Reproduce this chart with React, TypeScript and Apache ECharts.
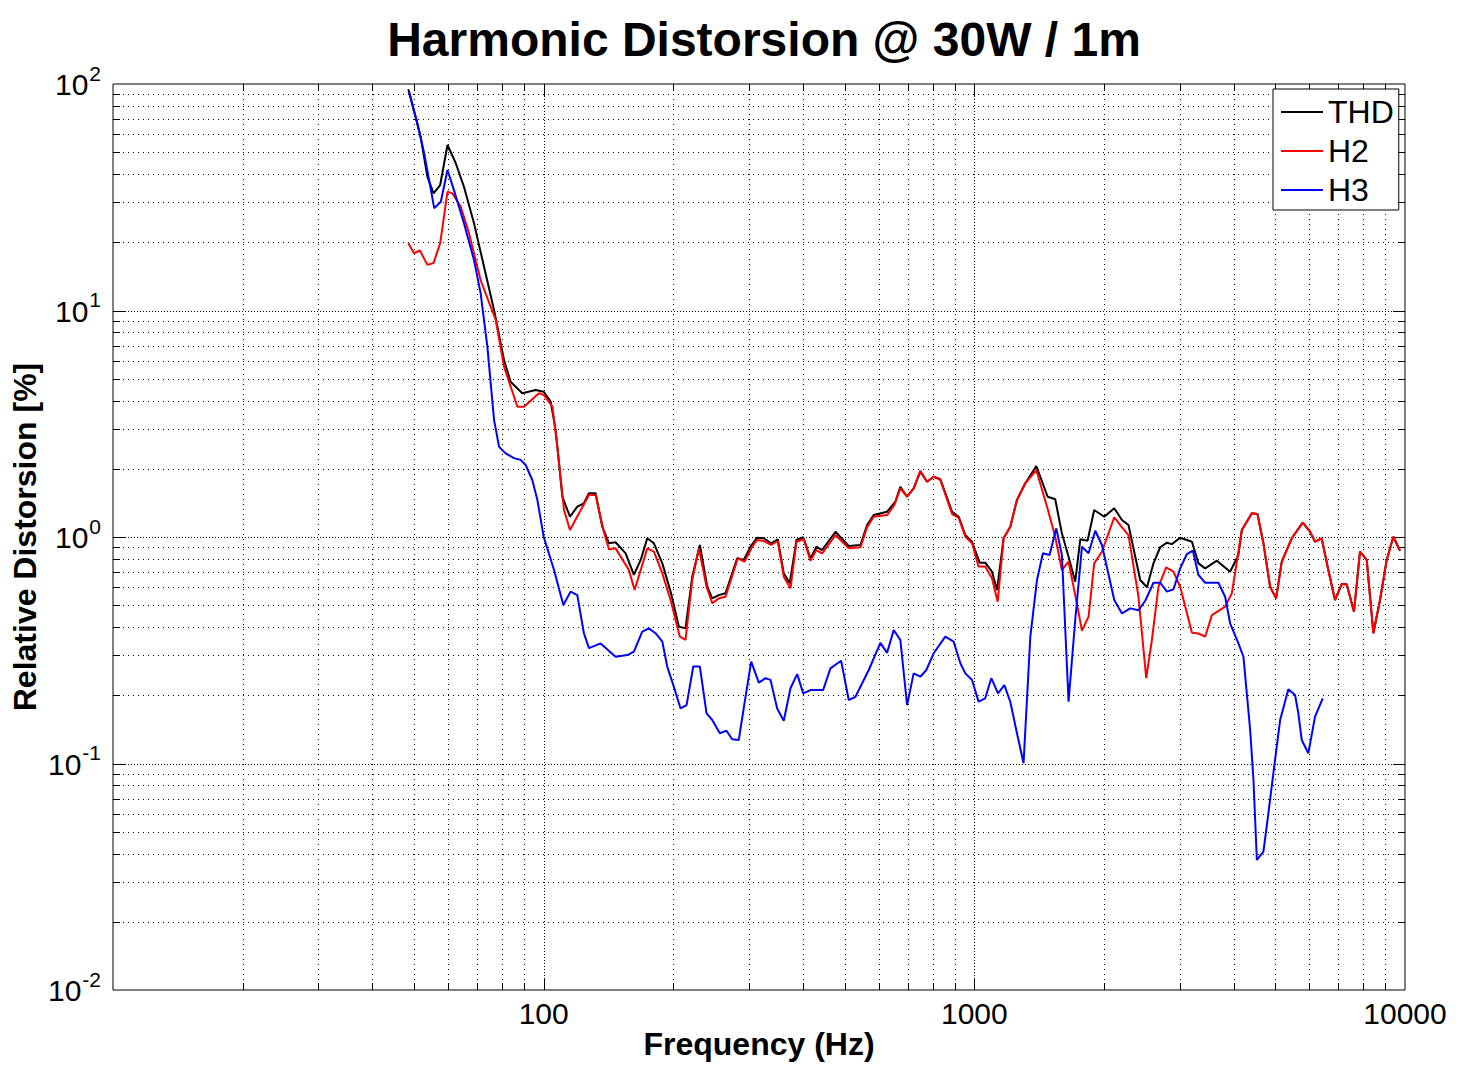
import React, { useEffect, useRef } from 'react';
import * as echarts from 'echarts';

const TITLE = 'Harmonic Distorsion @ 30W / 1m';
const X_NAME = 'Frequency (Hz)';
const Y_NAME = 'Relative Distorsion [%]';

const X_MAJOR_TICKS = [100, 1000];
const X_MINOR_TICKS = [20, 30, 40, 50, 60, 70, 80, 90, 200, 300, 400, 500, 600, 700, 800, 900, 2000, 3000, 4000, 5000, 6000, 7000, 8000, 9000];
const Y_MAJOR_TICKS = [0.1, 1, 10];
const Y_MINOR_TICKS = [0.02, 0.03, 0.04, 0.05, 0.06, 0.07, 0.08, 0.09, 0.2, 0.3, 0.4, 0.5, 0.6, 0.7, 0.8, 0.9, 2, 3, 4, 5, 6, 7, 8, 9, 20, 30, 40, 50, 60, 70, 80, 90];

const THD: [number, number][] = [
  [48.5, 94.8], [51.8, 58.5], [53.7, 39.0], [55.5, 32.9], [57.5, 35.8], [59.8, 53.8], [62.5, 44.7], [65.3, 35.2],
  [68.9, 24.3], [72.7, 15.6], [76.7, 10.05], [80.9, 6.05], [83.8, 4.85], [89.2, 4.31], [95.8, 4.46], [100, 4.38],
  [103.8, 3.96], [106.6, 2.97], [110.5, 1.506], [115.1, 1.229], [119.7, 1.361], [124.0, 1.409], [127.4, 1.559],
  [132.0, 1.559], [136.8, 1.11], [141.8, 0.938], [146.9, 0.948], [155.0, 0.847], [162.0, 0.68], [168.0, 0.792],
  [174.0, 0.987], [180.3, 0.938], [188.6, 0.765], [197.1, 0.574], [206.1, 0.402], [213.5, 0.395], [221.3, 0.668],
  [230.5, 0.922], [239.8, 0.603], [246.3, 0.536], [255.1, 0.554], [264.4, 0.564], [281.4, 0.805], [291.5, 0.792],
  [302.2, 0.906], [313.2, 0.993], [324.4, 0.987], [337.5, 0.938], [349.6, 0.977], [361.0, 0.691], [372.8, 0.625],
  [386.4, 0.970], [400.5, 0.997], [416.4, 0.805], [429.9, 0.906], [443.2, 0.876], [475.9, 1.055], [510.9, 0.913],
  [543.9, 0.922], [563.6, 1.13], [584.0, 1.25], [627.2, 1.293], [655.7, 1.432], [673.4, 1.667], [698.0, 1.506],
  [723.0, 1.641], [749.3, 1.942], [776.7, 1.754], [804.6, 1.846], [834.0, 1.798], [887.9, 1.293], [919.6, 1.229],
  [953.0, 1.02], [987.8, 0.953], [1029, 0.770], [1060, 0.770], [1099, 0.703], [1129, 0.583], [1169.5, 0.987],
  [1212, 1.11], [1256, 1.457], [1313, 1.726], [1393, 2.058], [1480, 1.506], [1541, 1.467], [1597, 1.038],
  [1655, 0.818], [1715, 0.635], [1762, 0.977], [1832, 0.963], [1898, 1.316], [2003, 1.229], [2113, 1.339],
  [2202, 1.189], [2280, 1.13], [2428, 0.646], [2517, 0.600], [2606, 0.765], [2701, 0.901], [2800, 0.944],
  [2875, 0.93], [3006, 0.993], [3201, 0.953], [3314, 0.765], [3436, 0.727], [3657, 0.786], [3926, 0.703],
  [4104, 0.833], [4180, 1.074], [4410, 1.272], [4544, 1.263], [4691, 0.938], [4862, 0.603], [5020, 0.536],
  [5175, 0.778], [5458, 0.987], [5788, 1.157], [6019, 1.055], [6182, 0.953], [6405, 0.987], [6637, 0.715],
  [6878, 0.527], [7128, 0.620], [7321, 0.619], [7613, 0.468], [7861, 0.861], [8149, 0.792], [8444, 0.376],
  [8750, 0.527], [9068, 0.792], [9395, 1.003], [9736, 0.870],
];

const H2: [number, number][] = [
  [48.5, 19.8], [50.0, 17.9], [51.6, 18.4], [53.7, 15.9], [55.5, 16.2], [57.5, 19.8], [59.8, 33.5], [61.4, 32.9],
  [64.2, 28.7], [67.1, 21.9], [71.4, 13.6], [75.3, 10.4], [77.4, 9.08], [80.9, 5.65], [86.9, 3.76], [90.0, 3.76],
  [97.5, 4.31], [100, 4.24], [104.8, 3.76], [107.6, 2.50], [111.5, 1.316], [115.1, 1.074], [120.8, 1.272],
  [127.4, 1.532], [132.0, 1.532], [137.6, 1.074], [141.8, 0.882], [146.9, 0.891], [157.7, 0.715], [162.6, 0.583],
  [168.0, 0.715], [174.0, 0.891], [180.3, 0.861], [188.6, 0.691], [197.1, 0.527], [207.1, 0.363], [213.5, 0.351],
  [221.3, 0.646], [229.3, 0.891], [238.9, 0.603], [246.3, 0.510], [255.1, 0.536], [264.4, 0.545], [282.3, 0.805],
  [292.6, 0.778], [304.9, 0.906], [313.2, 0.970], [324.4, 0.960], [337.5, 0.922], [349.6, 0.960], [361.0, 0.668],
  [374.2, 0.594], [386.4, 0.953], [401.7, 0.977], [416.4, 0.786], [429.9, 0.876], [443.2, 0.847], [475.9, 1.02],
  [510.9, 0.891], [543.9, 0.90], [563.6, 1.104], [584.0, 1.229], [627.2, 1.25], [652.3, 1.385], [673.4, 1.641],
  [698.0, 1.506], [723.0, 1.641], [749.3, 1.962], [776.7, 1.754], [804.6, 1.846], [834.0, 1.785], [887.9, 1.263],
  [919.6, 1.216], [953.0, 1.003], [987.8, 0.938], [1023, 0.740], [1060, 0.740], [1099, 0.657], [1133, 0.518],
  [1169.5, 0.987], [1212, 1.11], [1256, 1.457], [1313, 1.726], [1393, 1.976], [1475, 1.361], [1541, 1.003],
  [1597, 0.715], [1655, 0.778], [1715, 0.554], [1778, 0.386], [1842, 0.445], [1898, 0.765], [1978, 0.861],
  [2049, 1.038], [2113, 1.222], [2202, 1.104], [2280, 1.02], [2405, 0.545], [2507, 0.238], [2584, 0.351],
  [2676, 0.603], [2789, 0.735], [2900, 0.703], [3006, 0.603], [3201, 0.378], [3314, 0.375], [3436, 0.363],
  [3561, 0.452], [3823, 0.493], [3962, 0.564], [4180, 1.074], [4410, 1.272], [4544, 1.263], [4691, 0.938],
  [4862, 0.603], [5020, 0.536], [5175, 0.778], [5458, 0.987], [5788, 1.157], [6019, 1.055], [6182, 0.953],
  [6405, 0.987], [6637, 0.715], [6878, 0.527], [7128, 0.620], [7321, 0.619], [7613, 0.468], [7861, 0.861],
  [8149, 0.792], [8444, 0.376], [8750, 0.527], [9068, 0.792], [9395, 1.003], [9736, 0.870],
];

const H3: [number, number][] = [
  [48.7, 92.5], [50.9, 67.1], [52.8, 49.4], [55.7, 28.3], [57.7, 30.2], [59.8, 41.7], [61.9, 34.0], [65.3, 24.3],
  [68.9, 16.7], [71.4, 11.9], [74.0, 6.92], [76.7, 3.29], [78.8, 2.50], [81.6, 2.34], [85.3, 2.23], [88.4, 2.19],
  [90.8, 2.08], [94.1, 1.785], [96.7, 1.457], [100, 1.003], [105.7, 0.715], [111.1, 0.501], [115.5, 0.574],
  [119.7, 0.554], [124.0, 0.376], [127.4, 0.323], [135.6, 0.339], [146.9, 0.296], [156.4, 0.301], [162.0, 0.312],
  [169.4, 0.382], [175.5, 0.395], [181.9, 0.376], [188.6, 0.345], [193.6, 0.268], [200.6, 0.218], [207.9, 0.175],
  [214.7, 0.181], [222.5, 0.268], [230.5, 0.268], [238.9, 0.1666], [246.3, 0.1556], [256.5, 0.136], [265.8, 0.1396],
  [274.0, 0.128], [283.8, 0.127], [292.6, 0.1844], [303.3, 0.2815], [315.9, 0.2274], [327.4, 0.238], [336.3, 0.234],
  [348.5, 0.175], [361.0, 0.1545], [374.2, 0.215], [387.9, 0.248], [400.5, 0.204], [416.4, 0.211], [445.6, 0.211],
  [463.3, 0.263], [490.6, 0.2843], [510.9, 0.1907], [529.6, 0.197], [568.7, 0.2587], [605.1, 0.341], [627.2, 0.308],
  [649.9, 0.3886], [673.4, 0.351], [698.0, 0.181], [723.0, 0.250], [749.3, 0.2416], [773.6, 0.2587], [804.6, 0.3066],
  [856.2, 0.363], [895.4, 0.345], [928.0, 0.277], [953.0, 0.250], [987.8, 0.2338], [1023, 0.1874], [1060, 0.194],
  [1095, 0.238], [1135, 0.204], [1174, 0.222], [1212, 0.1874], [1256, 0.136], [1301, 0.1002], [1349, 0.363],
  [1398, 0.646], [1443, 0.847], [1495, 0.833], [1550, 1.092], [1597, 0.833], [1655, 0.1874], [1715, 0.430],
  [1778, 0.906], [1842, 0.847], [1909, 1.066], [1978, 0.922], [2113, 0.527], [2202, 0.46], [2301, 0.484],
  [2405, 0.475], [2494, 0.523], [2606, 0.628], [2701, 0.628], [2800, 0.574], [2900, 0.588], [3006, 0.727],
  [3116, 0.841], [3217, 0.870], [3314, 0.68], [3436, 0.628], [3688, 0.628], [3823, 0.545], [3926, 0.416],
  [4104, 0.339], [4216, 0.296], [4292, 0.204], [4370, 0.1406], [4448, 0.0846], [4529, 0.0375], [4691, 0.0408],
  [4817, 0.0603], [4947, 0.0905], [5129, 0.1556], [5360, 0.2127], [5556, 0.2006], [5654, 0.1666], [5757, 0.127],
  [5964, 0.111], [6182, 0.161], [6442, 0.194],
];

const FONT = "'Liberation Sans', Arial, sans-serif";

export default function App() {
  const ref = useRef<HTMLDivElement>(null);

  useEffect(() => {
    if (!ref.current) return;
    const chart = echarts.init(ref.current, null, { renderer: 'svg' });

    const xGridData = [
      ...X_MINOR_TICKS.map((v) => [v, 1, 0]),
      ...X_MAJOR_TICKS.map((v) => [v, 1, 1]),
    ];
    const yGridData = [
      ...Y_MINOR_TICKS.map((v) => [100, v, 0]),
      ...Y_MAJOR_TICKS.map((v) => [100, v, 1]),
    ];

    const option: any = {
      animation: false,
      backgroundColor: '#ffffff',
      title: {
        text: TITLE,
        left: 759,
        top: 10,
        textAlign: 'center',
        textStyle: { fontSize: 48, fontWeight: 'bold', fontFamily: FONT, color: '#000' },
      },
      legend: {
        data: ['THD', 'H2', 'H3'],
        orient: 'vertical',
        left: 1273,
        top: 89,
        padding: [7, 5, 4, 8],
        itemGap: 7,
        itemWidth: 42,
        itemHeight: 2,
        icon: 'rect',
        backgroundColor: '#ffffff',
        borderColor: '#000',
        borderWidth: 1,
        borderRadius: 0,
        selectedMode: false,
        itemStyle: { borderWidth: 0 },
        textStyle: { fontSize: 32, fontFamily: FONT, color: '#000' },
      },
      grid: {
        left: 113,
        right: 62,
        top: 84,
        bottom: 92,
        show: true,
        borderColor: '#000',
        borderWidth: 1,
        backgroundColor: 'transparent',
      },
      xAxis: {
        type: 'log',
        logBase: 10,
        min: 10,
        max: 10000,
        interval: 1,
        name: X_NAME,
        nameLocation: 'middle',
        nameGap: 38,
        nameMoveOverlap: false,
        nameTextStyle: { fontSize: 32, fontWeight: 'bold', fontFamily: FONT, color: '#000' },
        axisLine: { show: false },
        axisTick: { show: false },
        splitLine: { show: false },
        axisLabel: {
          margin: 8,
          fontSize: 30,
          fontFamily: FONT,
          color: '#000',
          formatter: (v: number) => (Math.abs(v - 10) < 1e-6 ? '' : String(Math.round(v))),
        },
      },
      yAxis: {
        type: 'log',
        logBase: 10,
        min: 0.01,
        max: 100,
        interval: 1,
        name: Y_NAME,
        nameLocation: 'middle',
        nameGap: 72,
        nameMoveOverlap: false,
        nameTextStyle: { fontSize: 32, fontWeight: 'bold', fontFamily: FONT, color: '#000' },
        axisLine: { show: false },
        axisTick: { show: false },
        splitLine: { show: false },
        axisLabel: {
          margin: 12,
          formatter: (v: number) => `{b|10}{s|${Math.round(Math.log10(v))}}`,
          rich: {
            b: { fontSize: 30, fontFamily: FONT, color: '#000', verticalAlign: 'bottom', padding: [0, 0, 6, 0] },
            s: { fontSize: 21, fontFamily: FONT, color: '#000', verticalAlign: 'top', padding: [0, 0, 22, 1] },
          },
        },
      },
      series: [
        {
          type: 'custom',
          name: 'xgrid',
          silent: true,
          z: 1,
          encode: { x: 0, y: 1 },
          data: xGridData,
          renderItem: (params: any, api: any) => {
            const cs = params.coordSys;
            const px = Math.round(api.coord([api.value(0), 1])[0]) + 0.5;
            const major = api.value(2) === 1;
            const top = cs.y;
            const bottom = cs.y + cs.height;
            const tl = major ? 12 : 7;
            return {
              type: 'group',
              children: [
                { type: 'line', shape: { x1: px, y1: top, x2: px, y2: bottom }, style: { stroke: '#000', lineWidth: 1, lineDash: major ? [1, 2] : [1, 4] } },
                { type: 'line', shape: { x1: px, y1: bottom, x2: px, y2: bottom - tl }, style: { stroke: '#000', lineWidth: 1 } },
                { type: 'line', shape: { x1: px, y1: top, x2: px, y2: top + tl }, style: { stroke: '#000', lineWidth: 1 } },
              ],
            };
          },
        },
        {
          type: 'custom',
          name: 'ygrid',
          silent: true,
          z: 1,
          encode: { x: 0, y: 1 },
          data: yGridData,
          renderItem: (params: any, api: any) => {
            const cs = params.coordSys;
            const py = Math.round(api.coord([100, api.value(1)])[1]) + 0.5;
            const major = api.value(2) === 1;
            const left = cs.x;
            const right = cs.x + cs.width;
            const tl = major ? 12 : 7;
            return {
              type: 'group',
              children: [
                { type: 'line', shape: { x1: left, y1: py, x2: right, y2: py }, style: { stroke: '#000', lineWidth: 1, lineDash: major ? [1, 2] : [1, 4] } },
                { type: 'line', shape: { x1: left, y1: py, x2: left + tl, y2: py }, style: { stroke: '#000', lineWidth: 1 } },
                { type: 'line', shape: { x1: right, y1: py, x2: right - tl, y2: py }, style: { stroke: '#000', lineWidth: 1 } },
              ],
            };
          },
        },
        {
          type: 'line',
          name: 'THD',
          data: THD,
          symbol: 'none',
          showSymbol: false,
          z: 3,
          lineStyle: { color: '#000000', width: 2 },
          itemStyle: { color: '#000000' },
        },
        {
          type: 'line',
          name: 'H2',
          data: H2,
          symbol: 'none',
          showSymbol: false,
          z: 4,
          lineStyle: { color: '#ff0000', width: 2 },
          itemStyle: { color: '#ff0000' },
        },
        {
          type: 'line',
          name: 'H3',
          data: H3,
          symbol: 'none',
          showSymbol: false,
          z: 5,
          lineStyle: { color: '#0000ff', width: 2 },
          itemStyle: { color: '#0000ff' },
        },
      ],
    };

    chart.setOption(option);
    return () => chart.dispose();
  }, []);

  return (
    <div
      ref={ref}
      style={{ position: 'fixed', left: 0, top: 0, width: 1467, height: 1082, background: '#fff' }}
    />
  );
}
